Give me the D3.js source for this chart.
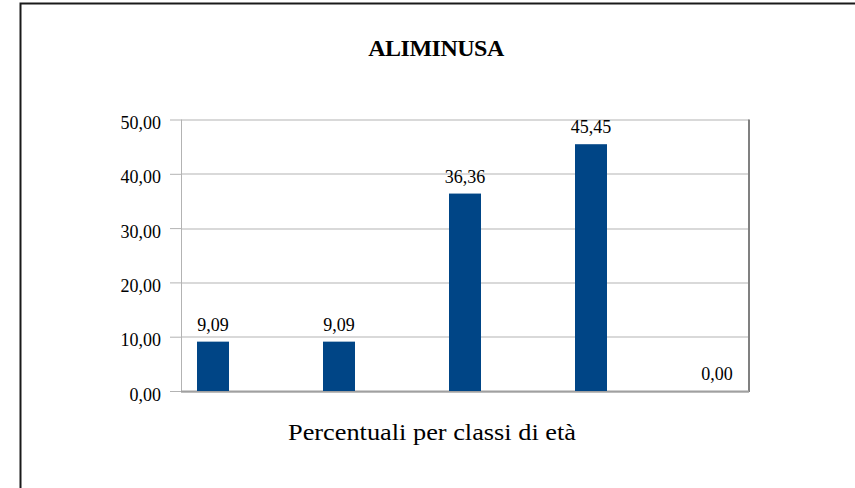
<!DOCTYPE html>
<html>
<head>
<meta charset="utf-8">
<script src="https://cdn.jsdelivr.net/npm/d3@7"></script>
<style>
  body { margin: 0; background: #fff; }
  text { font-family: "Liberation Serif", "Times New Roman", serif; fill: #000; }
</style>
</head>
<body>
<div id="chart"></div>
<script>
// chart data
var chartTitle = "ALIMINUSA";
var xTitle = "Percentuali per classi di età";
var categories = ["c1", "c2", "c3", "c4", "c5"];
var percentages = [9.09, 9.09, 36.36, 45.45, 0.00];
var yTicks = [0, 10, 20, 30, 40, 50];

var svgWidth = 855;
var svgHeight = 488;

var margin = { top: 119.5, right: 106, bottom: 97, left: 181 };
var chartWidth = svgWidth - margin.left - margin.right;
var chartHeight = svgHeight - margin.top - margin.bottom;

var fmt = function(v) { return v.toFixed(2).replace(".", ","); };

var svg = d3.select("#chart")
  .append("svg")
  .attr("width", svgWidth)
  .attr("height", svgHeight);

// outer frame (only left and top visible)
svg.append("rect")
  .attr("x", 20.5)
  .attr("y", 3.5)
  .attr("width", 900)
  .attr("height", 600)
  .attr("fill", "none")
  .attr("stroke", "#1a1a1a")
  .attr("stroke-width", 2);

svg.append("text")
  .attr("x", 436)
  .attr("y", 56)
  .attr("text-anchor", "middle")
  .style("font-size", "24px")
  .style("font-weight", "bold")
  .style("letter-spacing", "-0.5px")
  .text(chartTitle);

var chartGroup = svg.append("g")
  .attr("transform", `translate(${margin.left}, ${margin.top})`);

var x = d3.scalePoint()
  .domain(categories)
  .range([0, chartWidth])
  .padding(0.254);

var y = d3.scaleLinear()
  .domain([0, 50])
  .range([chartHeight, 0]);

// gridlines
chartGroup.append("g")
  .selectAll("line")
  .data(yTicks)
  .enter()
  .append("line")
  .attr("x1", 0)
  .attr("x2", chartWidth)
  .attr("y1", d => Math.round(y(d)) + 0.5)
  .attr("y2", d => Math.round(y(d)) + 0.5)
  .attr("stroke", "#b3b3b3")
  .attr("stroke-width", 1);

// left axis
var leftAxis = d3.axisLeft(y)
  .tickValues(yTicks)
  .tickSize(11)
  .tickPadding(9)
  .tickFormat(fmt);

var yAxisG = chartGroup.append("g").call(leftAxis);
yAxisG.select(".domain").remove();
yAxisG.selectAll(".tick line").attr("stroke", "#b3b3b3");
yAxisG.selectAll(".tick text")
  .style("font-size", "18px")
  .attr("dy", "0.5em");

chartGroup.append("line")
  .attr("x1", 0.5).attr("x2", 0.5)
  .attr("y1", 0).attr("y2", chartHeight)
  .attr("stroke", "#b3b3b3");

// right and bottom frame of plot area
chartGroup.append("line")
  .attr("x1", chartWidth).attr("x2", chartWidth)
  .attr("y1", 0).attr("y2", chartHeight + 1)
  .attr("stroke", "#808080")
  .attr("stroke-width", 2);
chartGroup.append("line")
  .attr("x1", 0).attr("x2", chartWidth)
  .attr("y1", chartHeight + 0.5).attr("y2", chartHeight + 0.5)
  .attr("stroke", "#a0a0a0")
  .attr("stroke-width", 2);

// bars
var barWidth = 32;
chartGroup.append("g")
  .selectAll("rect")
  .data(percentages)
  .enter()
  .append("rect")
  .attr("x", (d, i) => x(categories[i]) - barWidth / 2)
  .attr("y", d => y(d))
  .attr("width", barWidth)
  .attr("height", d => chartHeight - y(d))
  .attr("fill", "#004586");

// value labels
chartGroup.append("g")
  .selectAll("text")
  .data(percentages)
  .enter()
  .append("text")
  .attr("x", (d, i) => x(categories[i]))
  .attr("y", d => y(d) - 11)
  .attr("text-anchor", "middle")
  .style("font-size", "18px")
  .text(d => fmt(d));

// x axis title
svg.append("text")
  .attr("x", 432)
  .attr("y", 440)
  .attr("text-anchor", "middle")
  .style("font-size", "24px")
  .attr("textLength", 288)
  .attr("lengthAdjust", "spacingAndGlyphs")
  .text(xTitle);
</script>
</body>
</html>
